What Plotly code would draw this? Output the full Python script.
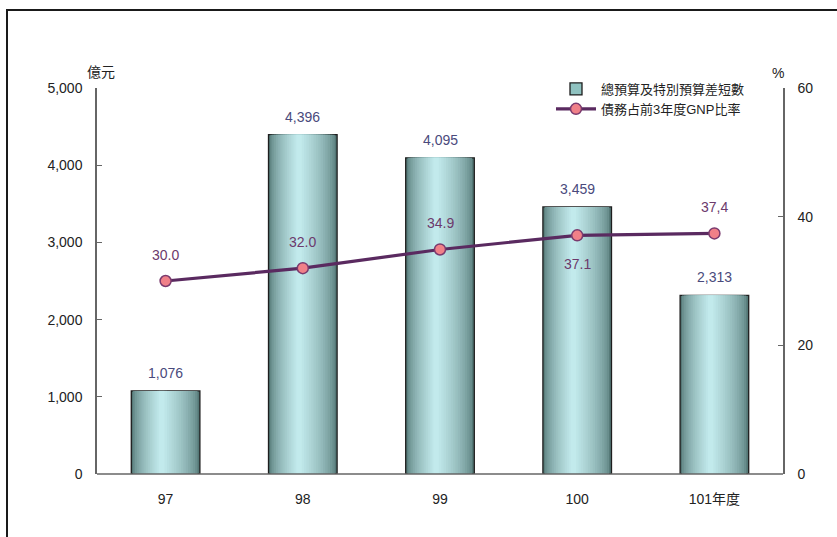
import plotly.graph_objects as go

categories = ["97", "98", "99", "100", "101年度"]
deficit = [1076, 4396, 4095, 3459, 2313]
debt_ratio = [30.0, 32.0, 34.9, 37.1, 37.4]
ratio_labels = ["30.0", "32.0", "34.9", "37.1", "37,4"]
ratio_label_side = [1, 1, 1, -1, 1]

bar_name = "總預算及特別預算差短數"
line_name = "債務占前3年度GNP比率"

FONT = "Liberation Sans, Arial, Noto Sans CJK TC, sans-serif"

xpos = list(range(len(categories)))

fig = go.Figure()

# gradient bars via overlaid layers
dark = (84, 120, 118)
light = (194, 234, 236)
n_layers = 16
outer_w = 0.5
for i in range(n_layers):
    frac = i / (n_layers - 1)
    w = outer_w * (1 - 0.92 * frac)
    k = frac ** 0.6
    col = tuple(int(dark[j] + (light[j] - dark[j]) * k) for j in range(3))
    shift = -0.03 * (1 - w / outer_w)
    fig.add_trace(go.Bar(
        x=xpos, y=deficit, width=w, offset=shift - w / 2,
        marker=dict(color="rgb(%d,%d,%d)" % col,
                    line=dict(color="#1e1e1e" if i == 0 else "rgba(0,0,0,0)", width=1.3 if i == 0 else 0)),
        name=bar_name, showlegend=False, hoverinfo="skip", yaxis="y",
    ))

# legend entry for the bars
fig.add_trace(go.Bar(
    x=xpos, y=[None] * len(categories), name=bar_name,
    marker=dict(color="#8fc2c0", line=dict(color="#1e1e1e", width=1.3)),
    showlegend=True, hoverinfo="skip",
))

fig.add_trace(go.Scatter(
    x=xpos, y=debt_ratio, yaxis="y2", name=line_name, mode="lines+markers",
    line=dict(color="#5a2a60", width=3.2),
    marker=dict(size=11, color="#f08088", line=dict(color="#7a3a6e", width=1.5)),
    cliponaxis=False,
))

annotations = []
for c, v in zip(xpos, deficit):
    annotations.append(dict(x=c, y=v, xref="x", yref="y", text=f"{v:,}", showarrow=False,
                            yanchor="bottom", yshift=8,
                            font=dict(family=FONT, size=14, color="#4a4a7c")))
for c, v, t, s in zip(xpos, debt_ratio, ratio_labels, ratio_label_side):
    annotations.append(dict(x=c, y=v, xref="x", yref="y2", text=t, showarrow=False,
                            yanchor="middle", yshift=26 if s > 0 else -29,
                            font=dict(family=FONT, size=14, color="#6c3a6c")))

L, R, T, B = 97, 54, 88, 63
W, H = 837, 537
pw, ph = W - L - R, H - T - B

def px(x):
    return (x - L) / pw

def py(y):
    return (H - B - y) / ph

annotations.append(dict(x=px(101), y=py(72), xref="paper", yref="paper", text="億元", showarrow=False,
                        xanchor="center", yanchor="middle",
                        font=dict(family=FONT, size=14, color="#222")))
annotations.append(dict(x=px(778), y=py(73), xref="paper", yref="paper", text="%", showarrow=False,
                        xanchor="center", yanchor="middle",
                        font=dict(family=FONT, size=14, color="#222")))

fig.update_layout(
    width=W, height=H,
    margin=dict(l=L, r=R, t=T, b=B, autoexpand=False),
    barmode="overlay",
    paper_bgcolor="white", plot_bgcolor="white",
    font=dict(family=FONT, size=14, color="#222"),
    showlegend=True,
    legend=dict(x=px(551), y=py(74), xanchor="left", yanchor="top",
                bgcolor="rgba(0,0,0,0)", font=dict(family=FONT, size=13, color="#222"),
                itemwidth=40, tracegroupgap=0, traceorder="normal"),
    xaxis=dict(range=[-0.5, len(categories) - 0.5], tickvals=xpos, ticktext=categories,
               showgrid=False, zeroline=False, showline=False, tickangle=0,
               ticks="", tickfont=dict(size=14, color="#222"), ticklabelstandoff=15,
               fixedrange=True),
    yaxis=dict(range=[0, 5000], tickvals=[0, 1000, 2000, 3000, 4000, 5000],
               tickformat=",d", showgrid=False, zeroline=False,
               showline=True, linecolor="#666", linewidth=1.5,
               ticks="inside", ticklen=5, tickcolor="#666", tickwidth=1.2,
               ticklabelstandoff=10, tickfont=dict(size=14, color="#222")),
    yaxis2=dict(range=[0, 60], tickvals=[0, 20, 40, 60], overlaying="y", side="right",
                showgrid=False, zeroline=False,
                showline=True, linecolor="#666", linewidth=1.5,
                ticks="inside", ticklen=5, tickcolor="#666", tickwidth=1.2,
                ticklabelstandoff=10, tickfont=dict(size=14, color="#222")),
    annotations=annotations,
    shapes=[
        dict(type="line", xref="paper", yref="paper", x0=0, x1=1, y0=0, y1=0,
             line=dict(color="#666", width=1.5), layer="above"),
        dict(type="path", xref="paper", yref="paper",
             path="M %f %f L %f %f L %f %f" % (px(7), -0.4, px(7), py(10), 1.3, py(10)),
             line=dict(color="#1a1a1a", width=2)),
    ],
)

fig.write_html("out.html", config={"displayModeBar": False},
               post_script="document.body.style.margin='0';document.body.style.overflow='hidden';")
